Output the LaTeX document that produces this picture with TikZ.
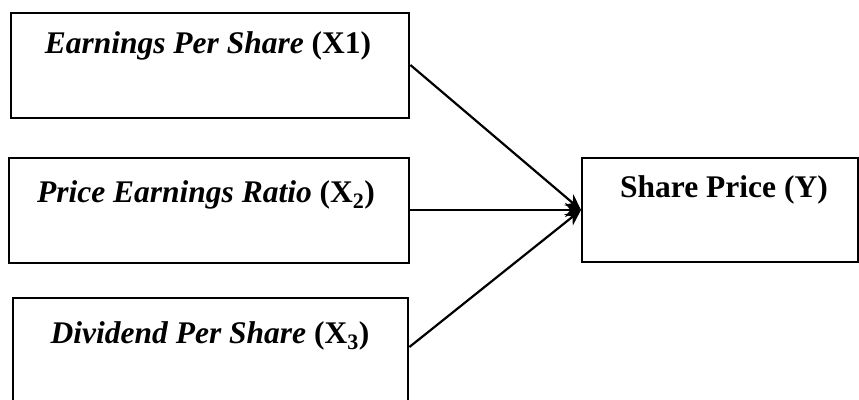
\documentclass[tikz,border=0pt]{standalone}
\usepackage{fontspec}
\setmainfont{Liberation Serif}
\usetikzlibrary{arrows.meta}
\begin{document}
\begin{tikzpicture}[x=1pt,y=-1pt,
  box/.style={draw,line width=2.4pt,rectangle,inner sep=0pt,anchor=north west},
  lbl/.style={anchor=base,inner sep=0pt,font=\fontsize{31.5}{34}\selectfont},
  conn/.style={line width=2.2pt,-{Stealth[length=16pt,width=14pt]}}]
\useasboundingbox (0,0) rectangle (859,399);
\node[box,minimum width=398pt,minimum height=105pt] (b1) at (10,12) {};
\node[box,minimum width=400pt,minimum height=105pt] (b2) at (8,157) {};
\node[box,minimum width=395pt,minimum height=120pt] (b3) at (12,297) {};
\node[box,minimum width=276pt,minimum height=104pt] (y) at (581,157) {};
\node[lbl] (t1) at (208,53) {\textbf{\textit{Earnings Per Share}} \textbf{(X1)}};
\node[lbl] (t2) at (206,202) {\textbf{\textit{Price Earnings Ratio}} \textbf{(X\textsubscript{2})}};
\node[lbl] (t3) at (210,343) {\textbf{\textit{Dividend Per Share}} \textbf{(X\textsubscript{3})}};
\node[lbl] (ty) at (724,197) {\textbf{Share Price (Y)}};
\coordinate (o1) at (b1.east |- 0,65);
\coordinate (o2) at (b2.east |- 0,210);
\coordinate (o3) at (b3.east |- 0,347);
\coordinate (tip) at (y.west |- 0,210);
\draw[conn] (o1) -- (tip);
\draw[conn] (o2) -- (tip);
\draw[conn] (o3) -- (tip);
\end{tikzpicture}
\end{document}
